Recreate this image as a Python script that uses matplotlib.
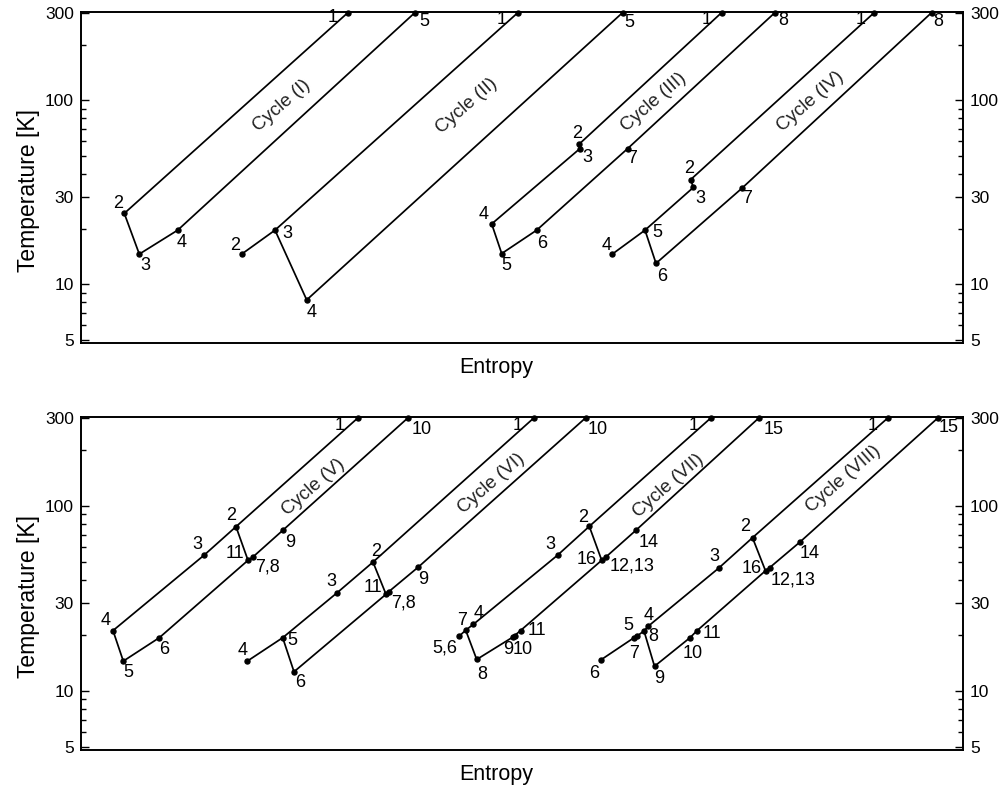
import matplotlib
matplotlib.use('Agg')
import matplotlib.pyplot as plt
from matplotlib.ticker import LogLocator, NullFormatter

plt.rcParams['font.family'] = ['Liberation Sans', 'DejaVu Sans']

# ---------------- data: top panel (cycles I-IV) ----------------
c1_pts = ['1', '2', '3', '4', '5']
c1_s = [26.7, 4.33, 5.83, 9.67, 33.4]
c1_T = [300, 24.3, 14.6, 19.7, 300]
c1_paths = [['1', '2', '3', '4', '5']]

c2_pts = ['1', '2', '3', '4', '5']
c2_s = [43.7, 16.07, 19.4, 22.57, 54.17]
c2_T = [300, 14.6, 19.7, 8.23, 300]
c2_paths = [['1', '3', '2'], ['3', '4', '5']]

c3_pts = ['1', '2', '3', '4', '5', '6', '7', '8']
c3_s = [64.07, 49.8, 49.9, 41.07, 42.07, 45.57, 54.67, 69.4]
c3_T = [300, 57.7, 54.7, 21.3, 14.7, 19.7, 54.7, 300]
c3_paths = [['1', '2', '3', '4', '5', '6', '7', '8']]

c4_pts = ['1', '2', '3', '4', '5', '6', '7', '8']
c4_s = [79.33, 60.97, 61.23, 53.13, 56.4, 57.5, 66.07, 85.07]
c4_T = [300, 37.1, 33.6, 14.6, 19.7, 13.0, 33.2, 300]
c4_paths = [['1', '2', '3', '5', '4'], ['5', '6', '7', '8']]

# ---------------- data: bottom panel (cycles V-VIII) ----------------
c5_pts = ['1', '2', '3', '4', '5', '6', '11', '7,8', '9', '10']
c5_s = [27.73, 15.5, 12.3, 3.2, 4.23, 7.83, 16.7, 17.2, 20.17, 32.73]
c5_T = [300, 77.2, 54.1, 21.2, 14.5, 19.4, 50.8, 53.0, 73.7, 300]
c5_paths = [['1', '2', '3', '4', '5', '6', '11', '7,8', '9', '10'], ['2', '11']]

c6_pts = ['1', '2', '3', '5', '4', '6', '11', '7,8', '9', '10']
c6_s = [45.33, 29.2, 25.63, 20.17, 16.63, 21.3, 30.5, 30.78, 33.73, 50.5]
c6_T = [300, 49.7, 34.0, 19.4, 14.5, 12.7, 33.3, 34.4, 46.7, 300]
c6_paths = [['1', '2', '3', '5', '4'], ['5', '6', '11', '7,8', '9', '10'], ['2', '11']]

c7_pts = ['1', '2', '3', '4', '7', '5,6', '8', '9', '10', '11', '16', '12,13', '14', '15']
c7_s = [63.03, 50.83, 47.65, 39.23, 38.47, 37.83, 39.57, 43.15, 43.35, 43.95, 52.07, 52.5, 55.48, 67.83]
c7_T = [300, 77.5, 54.1, 22.9, 21.3, 19.8, 14.8, 19.5, 19.9, 21.2, 50.8, 53.0, 73.7, 300]
c7_paths = [['1', '2', '3', '4', '7', '5,6'],
            ['7', '8', '9', '10', '11', '16', '12,13', '14', '15'], ['2', '16']]

c8_pts = ['1', '2', '3', '4', '8', '5', '7', '6', '9', '10', '11', '16', '12,13', '14', '15']
c8_s = [80.73, 67.15, 63.75, 56.73, 56.3, 55.6, 55.3, 51.97, 57.35, 60.9, 61.57, 68.45, 68.85, 71.9, 85.73]
c8_T = [300, 67.3, 46.0, 22.4, 21.1, 19.8, 19.4, 14.7, 13.6, 19.4, 21.1, 44.6, 46.3, 63.8, 300]
c8_paths = [['1', '2', '3', '4', '8', '5', '7', '6'],
            ['8', '9', '10', '11', '16', '12,13', '14', '15'], ['2', '16']]

cycle_names_top = ['Cycle (I)', 'Cycle (II)', 'Cycle (III)', 'Cycle (IV)']
cycle_names_bot = ['Cycle (V)', 'Cycle (VI)', 'Cycle (VII)', 'Cycle (VIII)']

y_ticks = [5, 10, 30, 100, 300]
y_ticklabels = ['5', '10', '30', '100', '300']

# ---------------- styles / label placement ----------------
c1_off = [(-15, -5), (-6, 10), (6, -11), (4, -12), (9, -9)]
c2_off = [(-16, -7), (-7, 9), (12, -3), (5, -13), (7, -10)]
c3_off = [(-15, -7), (-2, 11), (7, -9), (-8, 9), (5, -12), (5, -13), (4, -10), (8, -8)]
c4_off = [(-14, -7), (-2, 11), (7, -11), (-6, 9), (12, -2), (6, -13), (5, -10), (7, -9)]
c5_off = [(-19, -8), (-5, 11), (-7, 11), (-7, 10), (5, -11), (5, -12), (-13, 7), (14, -10), (7, -12), (13, -12)]
c6_off = [(-17, -8), (3, 11), (-6, 11), (10, -3), (-5, 11), (6, -11), (-13, 7), (15, -11), (5, -12), (12, -12)]
c7_off = [(-18, -8), (-6, 9), (-7, 11), (5, 11), (-4, 10), (-14, -12), (6, -15), (-4, -12), (8, -14),
          (16, 0), (-15, 1), (26, -9), (13, -12), (14, -12)]
c8_off = [(-16, -8), (-7, 11), (-4, 12), (0, 11), (9, -6), (-9, 11), (0, -16), (-7, -13), (5, -12),
          (3, -16), (15, -3), (-14, 2), (24, -12), (10, -12), (10, -10)]

name_pos_top = [(20.07, 93.9), (38.6, 92.8), (57.23, 97.9), (72.9, 97.9)]
name_pos_bot = [(23.23, 126.2), (41.07, 131.6), (58.73, 128.9), (76.23, 140.1)]

W, H = 1005, 794
fig = plt.figure(figsize=(W / 100, H / 100), dpi=100)
ax_top = fig.add_axes([81 / W, 1 - 343 / H, 882 / W, 331 / H])
ax_bot = fig.add_axes([81 / W, 1 - 750 / H, 882 / W, 333 / H])


def draw_cycle(ax, pts, s, T, paths, offs):
    idx = {p: i for i, p in enumerate(pts)}
    for path in paths:
        ax.plot([s[idx[p]] for p in path], [T[idx[p]] for p in path],
                color='black', lw=1.25, solid_joinstyle='round', zorder=2)
    ax.plot(s, T, 'o', color='black', ms=3.6, clip_on=False, zorder=3)
    for p, x, y, (dx, dy) in zip(pts, s, T, offs):
        ax.annotate(p, (x, y), xytext=(dx, dy), textcoords='offset pixels',
                    ha='center', va='center', fontsize=13, color='black', zorder=4)


def style_axis(ax):
    ax.set_yscale('log')
    ax.set_xlim(0, 88.2)
    ax.set_ylim(4.8, 302)
    ax.set_xticks([])
    ax.set_yticks(y_ticks)
    ax.set_yticklabels(y_ticklabels)
    ax.yaxis.set_minor_locator(LogLocator(base=10, subs=range(2, 10)))
    ax.yaxis.set_minor_formatter(NullFormatter())
    ax.tick_params(axis='y', which='both', direction='in', left=True, right=True,
                   labelleft=True, labelright=True, labelsize=12.5, pad=5, width=1.0)
    ax.tick_params(axis='y', which='major', length=6)
    ax.tick_params(axis='y', which='minor', length=3.5)
    for sp in ax.spines.values():
        sp.set_linewidth(1.4)
    ax.text((496 - 81) / 882, -0.075, 'Entropy', transform=ax.transAxes,
            ha='center', va='center', fontsize=15.5)
    ax.text(-53 / 882, 0.46, 'Temperature [K]', transform=ax.transAxes,
            ha='center', va='center', rotation=90, fontsize=16.5)


draw_cycle(ax_top, c1_pts, c1_s, c1_T, c1_paths, c1_off)
draw_cycle(ax_top, c2_pts, c2_s, c2_T, c2_paths, c2_off)
draw_cycle(ax_top, c3_pts, c3_s, c3_T, c3_paths, c3_off)
draw_cycle(ax_top, c4_pts, c4_s, c4_T, c4_paths, c4_off)
draw_cycle(ax_bot, c5_pts, c5_s, c5_T, c5_paths, c5_off)
draw_cycle(ax_bot, c6_pts, c6_s, c6_T, c6_paths, c6_off)
draw_cycle(ax_bot, c7_pts, c7_s, c7_T, c7_paths, c7_off)
draw_cycle(ax_bot, c8_pts, c8_s, c8_T, c8_paths, c8_off)

for name, (x, y) in zip(cycle_names_top, name_pos_top):
    ax_top.text(x, y, name, rotation=41, ha='center', va='center', fontsize=13.5,
                color='#222222', rotation_mode='anchor')
for name, (x, y) in zip(cycle_names_bot, name_pos_bot):
    ax_bot.text(x, y, name, rotation=41, ha='center', va='center', fontsize=13.5,
                color='#222222', rotation_mode='anchor')

style_axis(ax_top)
style_axis(ax_bot)

fig.savefig('out.png', dpi=100)
